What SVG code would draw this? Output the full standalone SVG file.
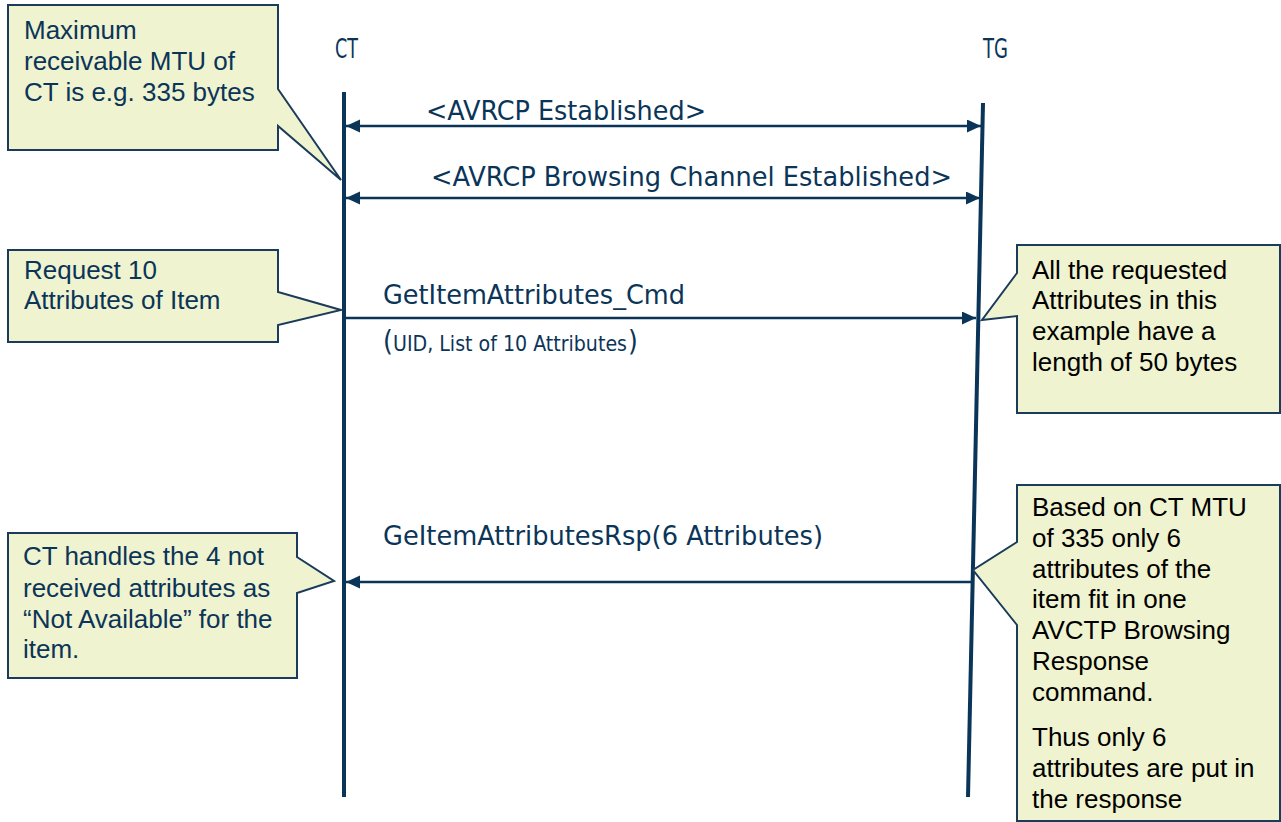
<svg xmlns="http://www.w3.org/2000/svg" width="1281" height="822" viewBox="0 0 1281 822">
<style>
.box{fill:#eff3cf;stroke:#1b3b5b;stroke-width:2;stroke-linejoin:miter}
.nt{font-family:"Liberation Sans",Arial,sans-serif;font-size:26px;fill:#0b3558}
.bt{font-family:"Liberation Sans",Arial,sans-serif;font-size:26px;fill:#000}
.lbl{font-family:"DejaVu Sans Condensed","DejaVu Sans",sans-serif;font-size:27px;fill:#0b3558}
.life{stroke:#0b3558;stroke-width:4;fill:none}
.msg{stroke:#0b3558;stroke-width:2.5;fill:none}
</style>
<defs>
<marker id="ah" markerUnits="userSpaceOnUse" markerWidth="16" markerHeight="14" refX="14" refY="6.5" orient="auto-start-reverse">
<path d="M0,0 L14,6.5 L0,13 Z" fill="#0b3558"/>
</marker>
</defs>
<rect width="1281" height="822" fill="#fff"/>

<g id="lifelines">
<text class="lbl" x="335" y="58" font-size="18" textLength="23" lengthAdjust="spacingAndGlyphs">CT</text>
<line class="life" x1="344" y1="92" x2="344" y2="797"/>
<text class="lbl" x="983" y="58" font-size="18" textLength="25" lengthAdjust="spacingAndGlyphs">TG</text>
<line class="life" x1="983" y1="103" x2="968" y2="797"/>
</g>

<g id="connectors">
<line class="msg" x1="346" y1="126" x2="981" y2="126" marker-start="url(#ah)" marker-end="url(#ah)"/>
<text class="lbl" x="426" y="120" textLength="280" lengthAdjust="spacingAndGlyphs">&lt;AVRCP Established&gt;</text>
<line class="msg" x1="346" y1="198" x2="980" y2="198" marker-start="url(#ah)" marker-end="url(#ah)"/>
<text class="lbl" x="431" y="186" textLength="521" lengthAdjust="spacingAndGlyphs">&lt;AVRCP Browsing Channel Established&gt;</text>
<line class="msg" x1="346" y1="318" x2="976" y2="318" marker-end="url(#ah)"/>
<text class="lbl" x="383" y="304" textLength="302" lengthAdjust="spacingAndGlyphs">GetItemAttributes_Cmd</text>
<text class="lbl" y="351"><tspan x="383" font-size="28">(</tspan><tspan x="393" font-size="21" textLength="234" lengthAdjust="spacingAndGlyphs">UID, List of 10 Attributes</tspan><tspan x="628" font-size="28">)</tspan></text>
<line class="msg" x1="972" y1="582" x2="346" y2="582" marker-end="url(#ah)"/>
<text class="lbl" x="383" y="545" textLength="440" lengthAdjust="spacingAndGlyphs">GeItemAttributesRsp(6 Attributes)</text>
</g>

<g id="note-mtu">
<path class="box" d="M8,5 H278 V89 L341,180 L278,126 V150 H8 Z"/>
<text class="nt"><tspan x="24" y="39">Maximum</tspan><tspan x="24" y="70">receivable MTU of</tspan><tspan x="24" y="101">CT is e.g. 335 bytes</tspan></text>
</g>

<g id="note-request">
<path class="box" d="M8,250 H278 V292 L341,310 L278,325 V342 H8 Z"/>
<text class="nt"><tspan x="24" y="279">Request 10</tspan><tspan x="24" y="309">Attributes of Item</tspan></text>
</g>

<g id="note-length">
<path class="box" d="M1017,245 H1280 V413 H1017 V316 L982,320 L1017,273 Z"/>
<text class="bt"><tspan x="1032" y="279">All the requested</tspan><tspan x="1032" y="309">Attributes in this</tspan><tspan x="1032" y="340">example have a</tspan><tspan x="1032" y="371">length of 50 bytes</tspan></text>
</g>

<g id="note-response">
<path class="box" d="M1017,485 H1280 V821 H1017 V625 L973,570 L1017,542 Z"/>
<text class="bt"><tspan x="1032" y="516">Based on CT MTU</tspan><tspan x="1032" y="547">of 335 only 6</tspan><tspan x="1032" y="578">attributes of the</tspan><tspan x="1032" y="608">item fit in one</tspan><tspan x="1032" y="639">AVCTP Browsing</tspan><tspan x="1032" y="670">Response</tspan><tspan x="1032" y="701">command.</tspan><tspan x="1032" y="746">Thus only 6</tspan><tspan x="1032" y="777">attributes are put in</tspan><tspan x="1032" y="808">the response</tspan></text>
</g>

<g id="note-handles">
<path class="box" d="M8,533 H297 V557 L334,581 L297,593 V678 H8 Z"/>
<text class="nt"><tspan x="23" y="565">CT handles the 4 not</tspan><tspan x="23" y="597">received attributes as</tspan><tspan x="23" y="628">“Not Available” for the</tspan><tspan x="23" y="658">item.</tspan></text>
</g>
</svg>
